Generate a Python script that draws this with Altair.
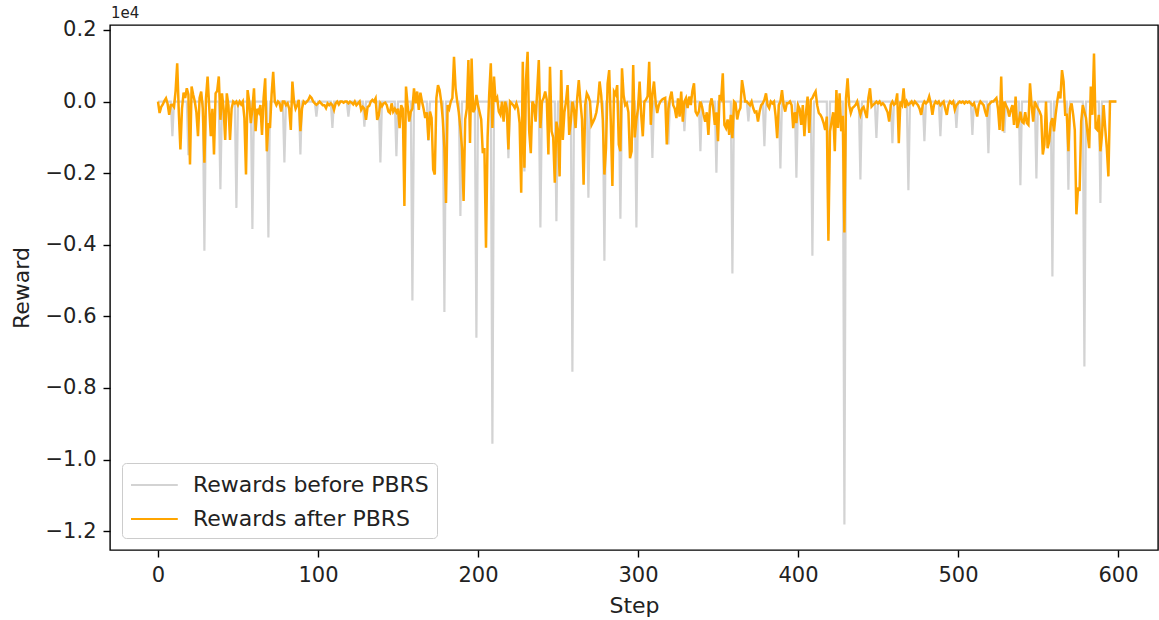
import altair as alt
import pandas as pd

# Reward after PBRS, one value per step (0..599)
after_rewards = [
    0, -320, -150, -80, 20, 90, -60, -370, -100, -90,
    -150, 300, 1070, -300, -1340, -200, 250, 100, 370, 200,
    -1760, 420, 190, 0, -300, -970, 100, 280, -200, -1710,
    100, 700, -150, -970, -200, -1480, 230, 300, 700, -510,
    230, -200, -1070, 230, -100, -1070, -200, 0, -50, 0,
    -100, 0, -80, 0, -460, -2040, 320, 0, -600, -200,
    370, -830, -200, -300, -100, -930, 100, 650, -1390, -600,
    -740, 200, 830, 0, -100, 0, -50, -280, 0, 0,
    -100, -50, -200, -790, 560, 0, -200, -100, 50, -830,
    -200, 0, -50, 0, 50, 150, 100, 0, -50, -90,
    -50, 0, -50, -100, -100, -185, -50, -100, -50, -100,
    -230, -50, 0, -80, 0, 0, -30, 0, 0, -50,
    0, -30, -80, 0, -100, -50, 0, -230, -150, -200,
    -510, -150, -120, 0, 50, 0, 90, -510, -380, -50,
    -130, -50, -30, -100, -280, -320, -50, -280, -200, -300,
    -200, -740, -100, -200, -2920, 420, -100, -560, -280, -200,
    370, -50, 280, -230, 250, 0, -200, -460, -300, -1070,
    -280, -460, -1900, -2040, 100, 460, 320, 0, -500, -1300,
    -2830, -100, -200, 0, 100, 1250, 370, 0, -300, -740,
    -1300, -2780, -500, -200, 1160, -1160, 1200, -300, -200, 185,
    -100, -300, -500, -1440, -1300, -4080, -1000, 200, 1070, -740,
    700, 0, 100, -280, -370, 0, -560, 0, -200, -1340,
    0, -50, -100, -180, -50, -200, -600, -2550, 1110, -1850,
    600, 1390, -830, -1440, 0, -100, -560, 300, 1160, -740,
    0, 100, 280, 50, -1480, 970, -830, -1000, -2270, -560,
    -800, -2090, 880, -1070, -300, 0, 460, -930, -560, 0,
    -230, -740, 100, 600, 0, -500, -2320, -100, 230, 140,
    0, -650, -560, -460, -300, 0, 560, 180, -500, -2040,
    -1300, 500, 880, -560, -2360, 280, 200, 460, -1200, -1390,
    930, 180, -100, -50, -300, -1580, -1390, 1020, -1000, -500,
    -200, 560, -370, -970, 0, 50, 150, 1110, -650, 200,
    560, 0, -320, -100, 0, 50, 80, 100, -1200, -200,
    100, 280, -100, -200, -460, 90, -420, 280, -560, 0,
    100, -180, 140, -100, 300, 510, -280, -370, -280, 0,
    -140, -370, -560, -300, -930, -100, 90, -180, -650, -300,
    -1110, 180, 90, 790, -650, -740, -500, -930, -370, -1020,
    0, -50, -500, -280, -180, 600, 320, 0, 0, -50,
    -100, 0, -180, -300, -280, -560, -280, -100, -50, 50,
    230, -100, -180, 0, -50, 0, -400, -1020, -100, 0,
    320, -100, -280, -50, -50, 0, -100, -740, -300, -600,
    -100, -200, -650, -100, -970, -300, 140, -880, 50, 100,
    200, 280, -100, -320, -370, -460, -600, -790, -420, -3890,
    -830, -560, -300, -1390, 320, -740, 230, -830, -400, -3660,
    90, 650, -100, -320, -180, -140, -90, 0, -200, -370,
    -200, -150, -300, -460, 100, 370, -140, -90, -50, 0,
    -50, 0, -90, -50, -100, -200, -300, -560, -90, 0,
    -90, -50, 230, -1160, 0, -90, 370, -180, 0, -90,
    -50, 0, -90, 0, -50, -100, -200, -370, -90, 0,
    -50, 0, 140, -50, -370, -90, 0, -50, 0, -100,
    -50, 0, -200, -370, -90, 0, -50, 0, -230, -100,
    -50, 0, -30, 0, -50, 0, -30, 0, -50, -100,
    -50, -200, -420, -100, 0, -50, -100, -280, -420, -100,
    -50, 0, 0, 50, 100, -200, -790, 700, -830, 0,
    -100, -200, -420, -230, -100, -650, 140, -740, -560, -280,
    -560, -600, -300, -600, -650, 510, -100, -560, 0, -100,
    -200, -280, -400, -1480, -1200, 0, -1300, -1110, -600, -460,
    -830, -370, 0, 280, 90, 880, 560, -370, -370, -1390,
    -200, -50, -370, -800, -3150, -2400, -2500, -560, -100, -280,
    -460, -900, -1300, 420, -370, 1340, -740, -790, -370, -1390,
    -930, -100, -740, -1300, -2090, 0, 0, 0, 0, 0,
]

# Reward before PBRS: flat at zero except a drop every 10th step (9, 19, ..., 589)
spike_steps = list(range(9, 590, 10))
spike_values = [
    -970, -1500, -4170, -2450, -2970, -3560, -3800, -1700, -1480, -420,
    -740, -420, -700, -1700, -1530, -5560, -1100, -5880, -3200, -6600,
    -9560, -1580, -1950, -3520, -3340, -7550, -2690, -4450, -3270, -3520,
    -1575, -1200, -830, -1390, -1990, -4800, -556, -1250, -1870, -2130,
    -4310, -3700, -11815, -2180, -1020, -1160, -2480, -1110, -970, -740,
    -930, -1440, -880, -2340, -2150, -4890, -2460, -7400, -2830,
]

series_names = ["Rewards before PBRS", "Rewards after PBRS"]
series_colors = ["#d3d3d3", "#ffa500"]

steps = list(range(len(after_rewards)))
before_rewards = [0] * len(steps)
for s, v in zip(spike_steps, spike_values):
    before_rewards[s] = v

df = pd.concat([
    pd.DataFrame({"step": steps, "reward": before_rewards, "series": series_names[0]}),
    pd.DataFrame({"step": steps, "reward": after_rewards, "series": series_names[1]}),
])

FONT = "DejaVu Sans"

x = alt.X("step:Q", title="Step",
          scale=alt.Scale(domain=[-30, 625], nice=False, zero=False),
          axis=alt.Axis(values=[0, 100, 200, 300, 400, 500, 600], format="d",
                        grid=False, titlePadding=10))
y = alt.Y("reward:Q", title="Reward",
          scale=alt.Scale(domain=[-12528, 2139], nice=False, zero=False),
          axis=alt.Axis(values=[-12000, -10000, -8000, -6000, -4000, -2000, 0, 2000],
                        labelExpr="replace(format(datum.value / 10000, '.1f'), '-', '\u2212')",
                        grid=False, titlePadding=12))
color = alt.Color("series:N",
                  scale=alt.Scale(domain=series_names, range=series_colors),
                  legend=alt.Legend(title=None, orient="bottom-left", offset=12,
                                    symbolType="M-1,0H2.6", symbolStrokeWidth=2,
                                    symbolSize=676, labelFontSize=22, labelFont=FONT,
                                    labelColor="#222222", labelOffset=35, labelLimit=500,
                                    fillColor="white", strokeColor="#cccccc",
                                    cornerRadius=4, padding=8, rowPadding=9))

base = alt.Chart(df).encode(x=x, y=y, color=color)

before_line = base.transform_filter(alt.datum.series == series_names[0]).mark_line(strokeWidth=2.2)
after_line = base.transform_filter(alt.datum.series == series_names[1]).mark_line(strokeWidth=2.5)

offset_label = alt.Chart(pd.DataFrame({"t": ["1e4"]})).mark_text(
    align="left", baseline="bottom", fontSize=15, font=FONT, color="#222222"
).encode(text="t:N", x=alt.value(1), y=alt.value(-4))

chart = alt.layer(before_line, after_line, offset_label).properties(
    width=1048, height=525,
    padding={"left": 110, "top": 25, "right": 1, "bottom": 70},
    autosize=alt.AutoSizeParams(type="none"),
    background="white",
).configure_view(
    stroke="black", strokeWidth=1.4
).configure_axis(
    domain=False, tickColor="black", tickSize=7, tickWidth=1.4,
    labelFont=FONT, labelFontSize=21, labelColor="#222222",
    titleFont=FONT, titleFontSize=22, titleFontWeight="normal", titleColor="#222222",
    labelPadding=7,
)

chart.save("out.html", embed_options={"renderer": "svg", "actions": False})
